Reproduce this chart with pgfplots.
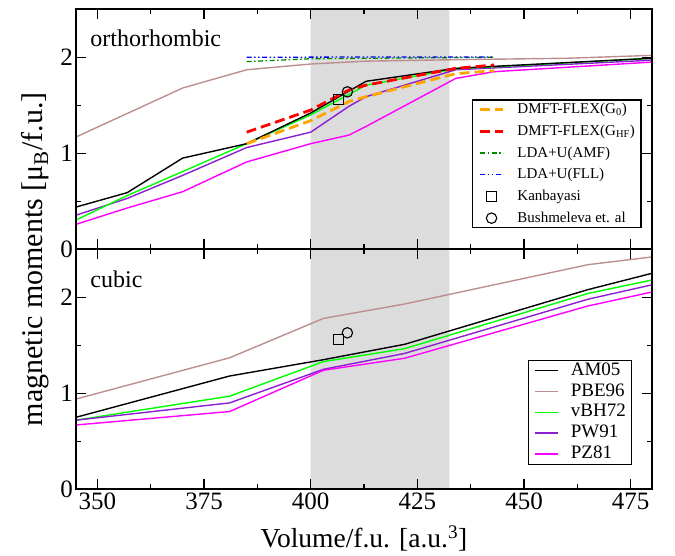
\documentclass[border=0pt]{standalone}
\usepackage{fontspec}
\setmainfont{Liberation Serif}
\usepackage{pgfplots}
\pgfplotsset{compat=1.18}
\definecolor{rosy}{RGB}{188,143,143}
\definecolor{lgreen}{RGB}{0,255,0}
\definecolor{violetc}{RGB}{140,30,210}
\definecolor{magc}{RGB}{255,0,255}
\definecolor{orangec}{RGB}{255,165,0}
\definecolor{redc}{RGB}{255,0,0}
\definecolor{dgreen}{RGB}{0,139,0}
\definecolor{bluec}{RGB}{0,0,255}
\definecolor{band}{RGB}{220,220,220}
\begin{document}
\begin{tikzpicture}
\pgfplotsset{
  panel/.style={
    scale only axis, width=576pt, height=240pt,
    xmin=345, xmax=480, ymin=0, ymax=2.5,
    xtick={350,375,400,425,450,475}, minor x tick num=1,
    ytick={0,1,2}, yticklabels={0,1,2}, minor y tick num=1,
    tick align=inside, tick pos=both,
    major tick length=10pt, minor tick length=5pt,
    major tick style={line width=1.3pt, black},
    minor tick style={line width=1.3pt, black},
    axis line style={line width=1.6pt},
    tick label style={font=\fontsize{25}{30}\selectfont},
    yticklabel style={inner xsep=3pt},
    axis on top,
    legend cell align=left,
    legend image code/.code={
      \draw[mark repeat=2,mark phase=2,##1] plot coordinates {(0pt,0pt) (11.5pt,0pt) (23pt,0pt)};},
  },
  dft/.style={line width=1.4pt},
}
% ---------------- top panel: orthorhombic ----------------
\begin{axis}[panel, name=top, xticklabels={},
  legend style={draw=black, line width=1.3pt, fill=white,
    at={(rel axis cs:0.982,0.0875)}, anchor=south east,
    font=\fontsize{15}{18}\selectfont,
    inner xsep=6pt, inner ysep=1.5pt, row sep=5.7pt,
    /tikz/every odd column/.append style={column sep=13pt},
    nodes={inner sep=0pt, text height=12pt, text depth=4pt}},
]
\addplot[fill=band, draw=none, forget plot] coordinates {(400,0) (400,2.5) (432.5,2.5) (432.5,0)} \closedcycle;
\addplot[dft, rosy, forget plot] coordinates {(345,1.17) (370,1.68) (385,1.87) (400,1.93) (413,1.96) (434,1.975) (460,1.99) (480,2.02)};
\addplot[dft, magc, forget plot] coordinates {(345,0.26) (357,0.43) (370,0.60) (385,0.91) (400,1.10) (409,1.19) (413,1.28) (434,1.78) (443,1.85) (480,1.95)};
\addplot[dft, violetc, forget plot] coordinates {(345,0.355) (357,0.53) (370,0.77) (385,1.06) (400,1.22) (409,1.49) (413,1.59) (434,1.87) (480,1.97)};
\addplot[dft, lgreen, forget plot] coordinates {(345,0.305) (357,0.56) (370,0.81) (385,1.10) (400,1.40) (413,1.71) (434,1.88) (480,1.99)};
\addplot[dft, black, forget plot] coordinates {(345,0.44) (357,0.59) (370,0.95) (385,1.10) (400,1.42) (413,1.75) (434,1.885) (480,1.99)};
\addplot[orangec, line width=2.8pt, dash pattern=on 10pt off 5pt] coordinates {(385,1.10) (400,1.34) (409,1.54) (413,1.59) (434,1.83) (443,1.86)};
\addlegendentry{DMFT-FLEX(G\textsubscript{0})}
\addplot[redc, line width=2.8pt, dash pattern=on 10pt off 5pt] coordinates {(385,1.22) (400,1.45) (409,1.66) (413,1.71) (434,1.885) (443,1.92)};
\addlegendentry{DMFT-FLEX(G\textsubscript{HF})}
\addplot[dgreen, line width=1.3pt, dash pattern=on 5pt off 2.5pt on 1.5pt off 2.5pt] coordinates {(385,1.955) (400,1.985) (413,1.99) (443,2.0)};
\addlegendentry{LDA+U(AMF)}
\addplot[bluec, line width=1.3pt, dash pattern=on 5pt off 2.5pt on 1.5pt off 2.5pt on 1.5pt off 2.5pt] coordinates {(385,2.0) (413,2.003) (443,2.003)};
\addlegendentry{LDA+U(FLL)}
\addplot[only marks, black, line width=1.1pt, mark=square, mark size=5pt] coordinates {(406.5,1.565)};
\addlegendentry{Kanbayasi}
\addplot[only marks, black, line width=1.1pt, mark=o, mark size=5.2pt] coordinates {(408.6,1.64)};
\addlegendentry{Bushmeleva et. al}
\node[anchor=base west, font=\fontsize{24}{28}\selectfont] at (rel axis cs:0.019,0.845) {orthorhombic};
\end{axis}
% ---------------- bottom panel: cubic ----------------
\begin{axis}[panel, name=bot, at={(top.south west)}, anchor=north west,
  xticklabels={350,375,400,425,450,475},
  xlabel={Volume/f.u. [a.u.\textsuperscript{3}]},
  xlabel style={font=\fontsize{27.5}{32}\selectfont, at={(axis description cs:0.5,0)}, anchor=base, yshift=-58pt},
  legend style={draw=black, line width=1.3pt, fill=white,
    at={(rel axis cs:0.966,0.101)}, anchor=south east,
    font=\fontsize{19}{22}\selectfont,
    inner xsep=6pt, inner ysep=1pt, row sep=1.8pt,
    /tikz/every odd column/.append style={column sep=12pt},
    nodes={inner sep=0pt, text height=14pt, text depth=5pt}},
]
\addplot[fill=band, draw=none, forget plot] coordinates {(400,0) (400,2.5) (432.5,2.5) (432.5,0)} \closedcycle;
\addplot[only marks, black, line width=1.1pt, mark=square, mark size=5pt, forget plot] coordinates {(406.5,1.565)};
\addplot[only marks, black, line width=1.1pt, mark=o, mark size=5.2pt, forget plot] coordinates {(408.6,1.63)};
\addplot[dft, black] coordinates {(345,0.75) (381,1.18) (403,1.35) (422,1.51) (465,2.08) (480,2.25)};
\addlegendentry{AM05}
\addplot[dft, rosy] coordinates {(345,0.94) (381,1.37) (403,1.78) (422,1.93) (465,2.34) (480,2.42)};
\addlegendentry{PBE96}
\addplot[dft, lgreen] coordinates {(345,0.72) (381,0.97) (403,1.33) (422,1.465) (465,2.04) (480,2.18)};
\addlegendentry{vBH72}
\addplot[dft, violetc] coordinates {(345,0.72) (381,0.90) (403,1.25) (422,1.415) (465,1.98) (480,2.13)};
\addlegendentry{PW91}
\addplot[dft, magc] coordinates {(345,0.67) (381,0.81) (403,1.24) (422,1.365) (465,1.91) (480,2.055)};
\addlegendentry{PZ81}
\node[anchor=base west, font=\fontsize{24}{28}\selectfont] at (rel axis cs:0.019,0.84) {cubic};
\end{axis}
\node[rotate=90, anchor=base, font=\fontsize{30}{34}\selectfont] at ([xshift=-33pt,yshift=-10pt]bot.north west) {magnetic moments [μ\textsubscript{B}/f.u.]};
\pgfresetboundingbox
\path ([xshift=-76pt,yshift=-66.7pt]bot.south west) rectangle ([xshift=23pt,yshift=9.3pt]top.north east);
\end{tikzpicture}
\end{document}
